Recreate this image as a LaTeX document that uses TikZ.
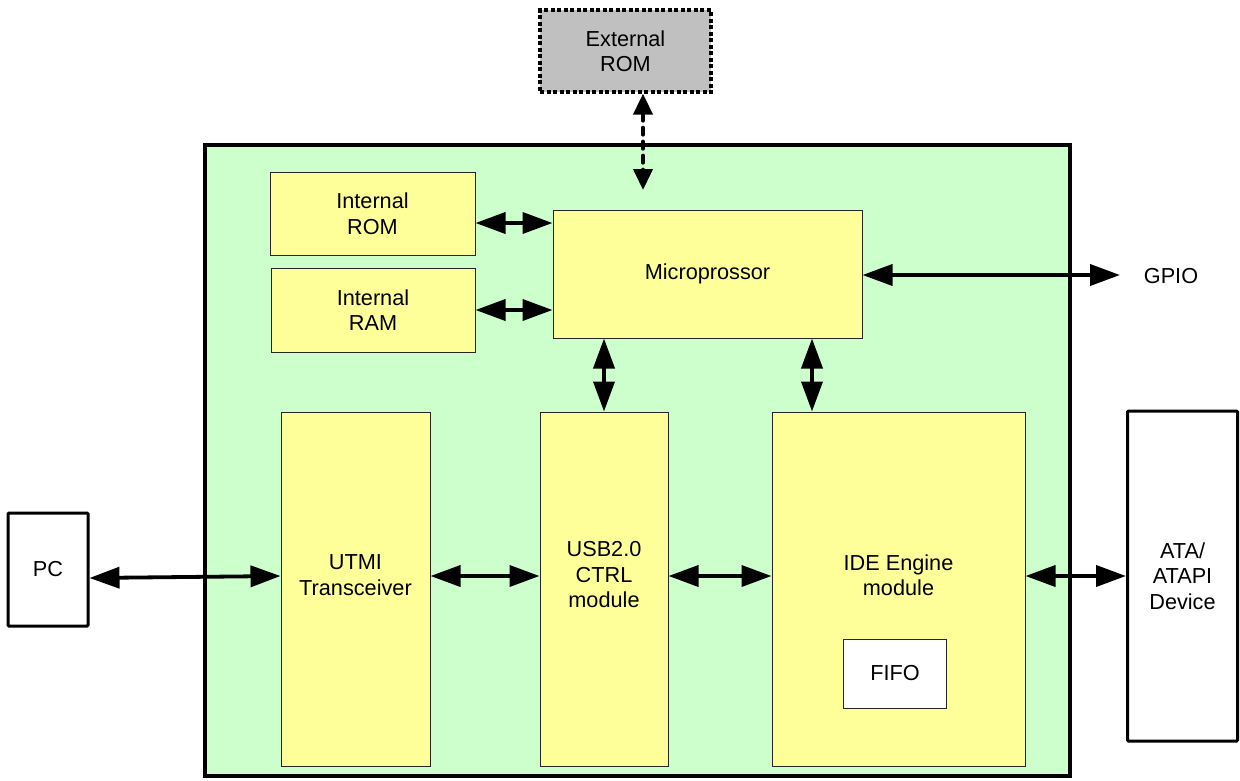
\documentclass[tikz,border=0pt]{standalone}
\usepackage{fontspec}
\setmainfont{Liberation Sans}
\usetikzlibrary{arrows.meta}
\definecolor{gbg}{HTML}{CCFFCC}
\definecolor{ybg}{HTML}{FFFF99}
\definecolor{rombg}{HTML}{C0C0C0}
\begin{document}
\begin{tikzpicture}[x=1pt,y=-1pt,
  every node/.style={font=\fontsize{21.7}{25.5}\selectfont, align=center, inner sep=0pt},
  blk/.style={draw=black!85, line width=1pt, fill=ybg, rectangle},
  ext/.style={draw=black, line width=3pt, rectangle, rounded corners=1pt},
  arr/.style={line width=3.8pt, {Triangle[length=30pt,width=21pt]}-{Triangle[length=30pt,width=21pt]}},
  darr/.style={line width=4pt, line cap=round, dash pattern=on 7pt off 7pt, {Triangle[length=21pt,width=19pt]}-{Triangle[length=21pt,width=19pt]}}
]
\useasboundingbox (0,0) rectangle (1240,780);
% main box
\node[draw=black, line width=4pt, fill=gbg, minimum width=865pt, minimum height=631pt] (main) at (637.5,460.5) {};
% external ROM
\node[draw=black, line width=3.3pt, dash pattern=on 4pt off 2.5pt, fill=rombg, minimum width=171pt, minimum height=82pt] (erom) at (625.5,51) {External\\ROM};
% internal blocks
\node[blk, minimum width=205pt, minimum height=83pt] (irom) at (372.5,213.5) {Internal\\ROM};
\node[blk, minimum width=204pt, minimum height=84pt] (iram) at (373,310) {Internal\\RAM};
\node[blk, minimum width=309pt, minimum height=128pt] (micro) at (707.5,274) {Micropr{}ossor};
\node[blk, minimum width=149pt, minimum height=354pt] (utmi) at (355.5,589) {};
\node (utmit) at (355.5,575) {UTMI\\Transceiver};
\node[blk, minimum width=128pt, minimum height=354pt] (usb) at (604,589) {};
\node (usbt) at (604,575) {USB2.0\\CTRL\\module};
\node[blk, minimum width=253pt, minimum height=354pt] (ide) at (898.5,589) {};
\node (idet) at (898.5,575) {IDE Engine\\module};
\node[draw=black!85, line width=1pt, fill=white, minimum width=103pt, minimum height=69pt] (fifo) at (895,673.5) {FIFO};
% external devices
\node[ext, fill=white, minimum width=80pt, minimum height=113pt] (pc) at (48,569.5) {PC};
\node[ext, fill=white, minimum width=110pt, minimum height=330pt] (ata) at (1182.5,576) {ATA/\\ATAPI\\Device};
\node (gpio) at (1171,276) {GPIO};
\coordinate (eromend) at (643,190);
\coordinate (gpioend) at (1120,275);
% connectors
\draw[darr] (erom.south -| eromend) -- (eromend);
\draw[arr] ([yshift=-9.5pt]irom.east) -- ([yshift=-9.5pt]irom.east -| micro.west);
\draw[arr] (iram.east) -- (iram.east -| micro.west);
\draw[arr] ([yshift=-1pt]micro.east) -- (gpioend);
\draw[arr] (micro.south -| usb.north) -- (usb.north);
\draw[arr] ([xshift=104.5pt]micro.south) -- ([xshift=104.5pt]micro.south |- ide.north);
\draw[arr] ([yshift=-8.5pt]pc.east) -- ([yshift=13pt]utmi.west);
\draw[arr] ([yshift=13pt]utmi.east) -- ([yshift=13pt]usb.west);
\draw[arr] ([yshift=13pt]usb.east) -- ([yshift=13pt]ide.west);
\draw[arr] ([yshift=13pt]ide.east) -- ([yshift=13pt]ide.east -| ata.west);
\end{tikzpicture}
\end{document}
